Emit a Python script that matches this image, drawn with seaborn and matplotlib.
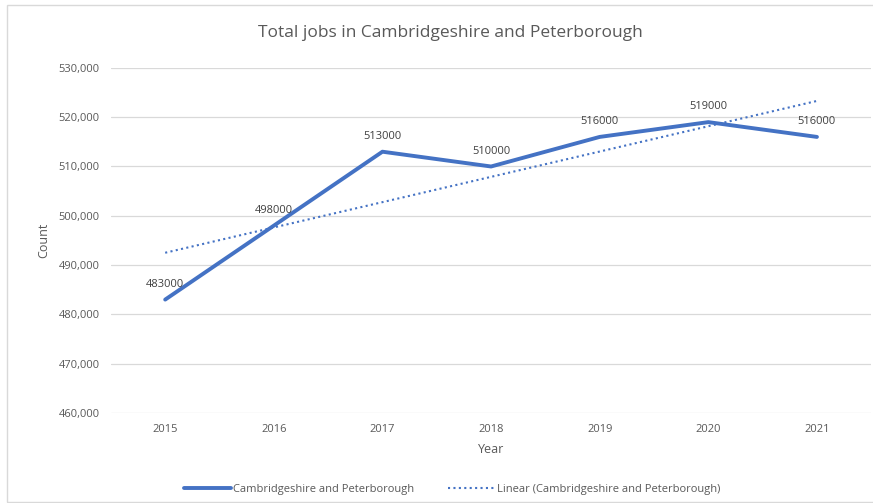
import matplotlib
matplotlib.use("Agg")
import matplotlib.pyplot as plt
import seaborn as sns
import pandas as pd
from matplotlib.patches import Rectangle
from matplotlib.ticker import FuncFormatter, MultipleLocator

years = ["2015", "2016", "2017", "2018", "2019", "2020", "2021"]
jobs = [483000, 498000, 513000, 510000, 516000, 519000, 516000]
trend_years = ["2015", "2021"]
trend_values = [492500, 523300]

series_name = "Cambridgeshire and Peterborough"
trend_name = "Linear (Cambridgeshire and Peterborough)"

sns.set_theme(style="white")
plt.rcParams["font.family"] = ["Open Sans", "DejaVu Sans"]

df = pd.DataFrame({"Year": years, "Count": jobs})
df["pos"] = range(len(years))
tdf = pd.DataFrame({"pos": [years.index(y) for y in trend_years], "Count": trend_values})

fig = plt.figure(figsize=(8.73, 5.03), dpi=100)
ax = fig.add_axes([0.127, 0.179, 0.871, 0.686])

blue = "#4472C4"
sns.lineplot(data=df, x="pos", y="Count", ax=ax, color=blue, linewidth=2.8,
             label=series_name, solid_capstyle="round")
sns.lineplot(data=tdf, x="pos", y="Count", ax=ax, color=blue, linewidth=1.5,
             linestyle=(0, (1, 1.6)), label=trend_name)

for p, v in zip(df["pos"], df["Count"]):
    ax.annotate(str(v), (p, v), xytext=(0, 7), textcoords="offset points",
                ha="center", va="bottom", fontsize=8, color="#404040")

ax.set_xlim(-0.5, len(years) - 0.5)
ax.set_ylim(460000, 530000)
ax.yaxis.set_major_locator(MultipleLocator(10000))
ax.yaxis.set_major_formatter(FuncFormatter(lambda v, _: f"{int(v):,}"))
ax.set_xticks(df["pos"])
ax.set_xticklabels(years)
ax.tick_params(axis="both", labelsize=8, colors="#595959", length=0, pad=8)
ax.grid(axis="y", color="#D9D9D9", linewidth=0.9)
ax.set_axisbelow(True)
for s in ax.spines.values():
    s.set_visible(False)

ax.set_xlabel("Year", fontsize=9, color="#595959", labelpad=6)
ax.set_ylabel("Count", fontsize=9, color="#595959", labelpad=6)
fig.text(450 / 873, 1 - 33 / 503, "Total jobs in Cambridgeshire and Peterborough",
         fontsize=12.5, color="#595959", ha="center", va="center")

leg = ax.legend(loc="center", bbox_to_anchor=(0.449, -0.222), ncol=2,
                frameon=False, fontsize=8, handlelength=4.2, columnspacing=3,
                handletextpad=0.2)
for t in leg.get_texts():
    t.set_color("#595959")

fig.patches.append(Rectangle((7 / 873, 0.002), 1.0, 1 - 5 / 503 - 0.002,
                             transform=fig.transFigure, fill=False,
                             edgecolor="#D9D9D9", linewidth=1, zorder=0))

fig.savefig("out.png", dpi=100)
